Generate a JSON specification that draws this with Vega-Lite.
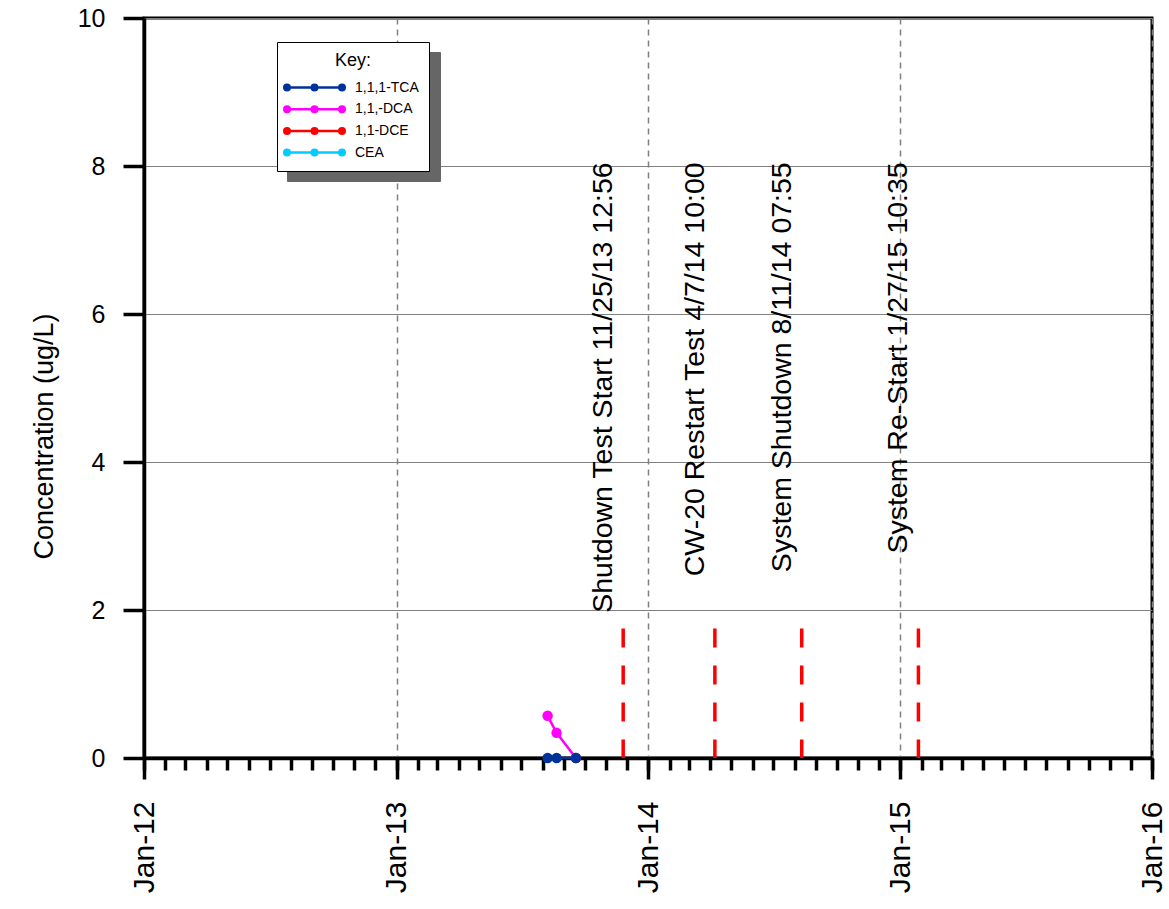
{
  "$schema": "https://vega.github.io/schema/vega-lite/v6.json",
  "width": 1008,
  "height": 740,
  "autosize": {"type": "none"},
  "padding": {"left": 144, "top": 18, "right": 17, "bottom": 151},
  "background": "white",
  "config": {
    "font": "Liberation Sans",
    "view": {"stroke": "#000000", "strokeWidth": 3},
    "axis": {"labelColor": "#000000", "titleColor": "#000000", "labelFont": "Liberation Sans", "titleFont": "Liberation Sans"}
  },
  "datasets": {
    "samples": [
      {"date": "2013-08-08", "compound": "1,1,-DCA", "value": 0.57},
      {"date": "2013-08-21", "compound": "1,1,-DCA", "value": 0.34},
      {"date": "2013-09-18", "compound": "1,1,-DCA", "value": 0},
      {"date": "2013-08-08", "compound": "1,1,1-TCA", "value": 0},
      {"date": "2013-08-21", "compound": "1,1,1-TCA", "value": 0},
      {"date": "2013-09-18", "compound": "1,1,1-TCA", "value": 0}
    ],
    "events": [
      {"date": "2013-11-25T12:56:00Z", "label": "Shutdown Test Start 11/25/13 12:56"},
      {"date": "2014-04-07T10:00:00Z", "label": "CW-20 Restart Test 4/7/14 10:00"},
      {"date": "2014-08-11T07:55:00Z", "label": "System Shutdown 8/11/14 07:55"},
      {"date": "2015-01-27T10:35:00Z", "label": "System Re-Start 1/27/15 10:35"}
    ],
    "keyShadow": [
      {"k": "1,1,1-TCA"},
      {"k": "1,1,-DCA"},
      {"k": "1,1-DCE"},
      {"k": "CEA"}
    ]
  },
  "layer": [
    {
      "data": {"name": "events"},
      "mark": {"type": "rule", "color": "#FF0000", "strokeWidth": 3.5, "strokeDash": [19, 18]},
      "encoding": {
        "x": {
          "field": "date", "type": "temporal",
          "scale": {"type": "utc", "domain": [{"year": 2012, "month": 1, "date": 1, "utc": true}, {"year": 2016, "month": 1, "date": 1, "utc": true}]},
          "axis": {"orient": "bottom", "title": null, "labels": false, "domain": false, "grid": false, "ticks": true, "tickSize": 12, "tickWidth": 3.5, "tickColor": "#000000", "tickCount": {"interval": "month", "step": 1}}
        },
        "y": {"datum": 1.75, "type": "quantitative", "scale": {"domain": [0, 10]}},
        "y2": {"datum": 0}
      }
    },
    {
      "data": {"name": "events"},
      "mark": {"type": "text", "angle": 270, "align": "right", "baseline": "middle", "dy": -20, "fontSize": 28.5, "font": "Liberation Sans", "color": "#000000"},
      "encoding": {
        "x": {
          "field": "date", "type": "temporal",
          "scale": {"type": "utc", "domain": [{"year": 2012, "month": 1, "date": 1, "utc": true}, {"year": 2016, "month": 1, "date": 1, "utc": true}]},
          "axis": null
        },
        "y": {"datum": 8.05, "type": "quantitative", "scale": {"domain": [0, 10]}},
        "text": {"field": "label"}
      }
    },
    {
      "data": {"name": "keyShadow"},
      "mark": {"type": "point", "opacity": 0},
      "encoding": {
        "shape": {
          "field": "k", "type": "nominal", "sort": null,
          "legend": {
            "title": null, "orient": "none", "legendX": 143, "legendY": 34, "direction": "vertical", "zindex": 1,
            "fillColor": "#666666", "strokeColor": "#666666", "padding": 10,
            "labelExpr": "''", "labelFontSize": 14, "labelOffset": 108,
            "symbolType": "M-1.136,0H3.864",
            "symbolSize": 484, "symbolStrokeWidth": 2.5, "symbolOpacity": 0, "rowPadding": 4.67
          }
        }
      }
    },
    {
      "data": {"name": "samples"},
      "mark": {"type": "line", "strokeWidth": 2.5, "point": {"filled": true, "size": 110, "opacity": 1}},
      "encoding": {
        "x": {
          "field": "date", "type": "temporal",
          "scale": {"type": "utc", "domain": [{"year": 2012, "month": 1, "date": 1, "utc": true}, {"year": 2016, "month": 1, "date": 1, "utc": true}]},
          "axis": {
            "orient": "bottom", "title": null, "format": "%b-%y", "tickCount": {"interval": "year", "step": 1},
            "labelAngle": 270, "labelFontSize": 30, "labelPadding": 22, "labelFlush": false, "labelOverlap": false, "labelBound": false,
            "tickSize": 21, "tickWidth": 3.5, "tickColor": "#000000",
            "domainWidth": 3.5, "domainColor": "#000000",
            "grid": true, "gridColor": "#808080", "gridDash": [6, 5], "gridWidth": 1.5
          }
        },
        "y": {
          "field": "value", "type": "quantitative",
          "scale": {"domain": [0, 10], "nice": false},
          "axis": {
            "title": "Concentration (ug/L)", "titleFontSize": 27, "titleFontWeight": "normal",
            "titleAngle": 270, "titleX": -100, "titleY": 418, "titleAlign": "center", "titleBaseline": "middle",
            "values": [0, 2, 4, 6, 8, 10], "format": "d", "labelFontSize": 25, "labelPadding": 18,
            "tickSize": 21, "tickWidth": 3.5, "tickColor": "#000000",
            "domainWidth": 3.5, "domainColor": "#000000",
            "grid": true, "gridColor": "#808080", "gridWidth": 1
          }
        },
        "color": {
          "field": "compound", "type": "nominal",
          "scale": {"domain": ["1,1,1-TCA", "1,1,-DCA", "1,1-DCE", "CEA"], "range": ["#003399", "#FF00FF", "#FF0000", "#00CCFF"]},
          "legend": {
            "title": "Key:", "orient": "none", "legendX": 133, "legendY": 24, "direction": "vertical", "zindex": 2,
            "fillColor": "#FFFFFF", "strokeColor": "#000000", "padding": 10,
            "titleFont": "Liberation Sans", "titleFontSize": 18, "titleFontWeight": "normal", "titleColor": "#000000", "titleAnchor": "middle", "titlePadding": 5,
            "labelFont": "Liberation Sans", "labelFontSize": 14, "labelColor": "#000000", "labelOffset": 43,
            "symbolType": "M-1.136,0H3.864M-1.386,0a0.25,0.25 0 1,0 0.5,0a0.25,0.25 0 1,0 -0.5,0M1.114,0a0.25,0.25 0 1,0 0.5,0a0.25,0.25 0 1,0 -0.5,0M3.614,0a0.25,0.25 0 1,0 0.5,0a0.25,0.25 0 1,0 -0.5,0",
            "symbolSize": 484, "symbolStrokeWidth": 2.5, "rowPadding": 0.7,
            "encode": {"symbols": {"update": {"fill": {"scale": "color", "field": "value"}, "fillOpacity": {"value": 1}, "stroke": {"scale": "color", "field": "value"}, "opacity": {"value": 1}}}}
          }
        }
      }
    }
  ],
  "resolve": {"axis": {"x": "independent"}}
}
